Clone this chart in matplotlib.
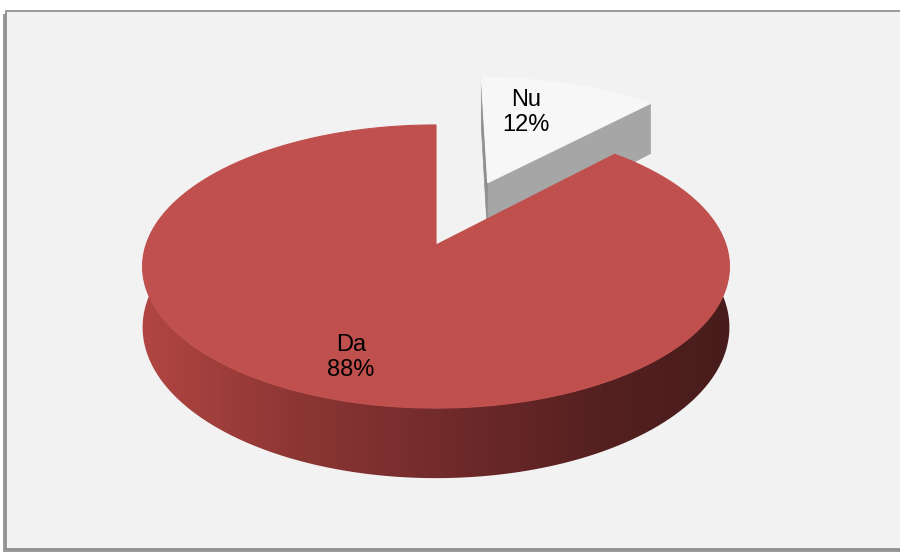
import numpy as np
import matplotlib
matplotlib.use("Agg")
import matplotlib.pyplot as plt
from matplotlib.patches import Polygon, Rectangle
from matplotlib.colors import LinearSegmentedColormap

# data
labels = ["Nu", "Da"]
values = [12, 88]
explode = [0.52, 0.0]
top_colors = ["#f7f7f7", "#c0504d"]
cut_colors = ["#a6a6a6", "#8e3a38"]

# label placement (radius from slice apex, angle nudge in degrees)
label_r = [0.66, 0.77]
label_turn = [6.6, 1.8]

# 3d pie projection (pixel space)
CX, CY = 436, 245      # centre of pie on screen
A, B = 290, 138.3      # horizontal / depth radius
K = 0.152              # perspective
H = 59.4               # thickness


def proj(u, v, z=0.0):
    den = 1 + K * v
    return CX + A * u / den, CY - B * v / den + z * H / den


def arc(t1, t2, ou, ov, z, n=200):
    t = np.radians(np.linspace(t1, t2, n))
    return [proj(ou + np.cos(a), ov + np.sin(a), z) for a in t]


fig = plt.figure(figsize=(9, 5.52), dpi=100)
ax = fig.add_axes([0, 0, 1, 1])
ax.set_xlim(0, 900)
ax.set_ylim(552, 0)
ax.axis("off")

# chart frame with a small shadow
ax.add_patch(Rectangle((3, 14), 900, 538, facecolor="#9a9a9a", edgecolor="none", zorder=0))
ax.add_patch(Rectangle((6, 11), 900, 538, facecolor="#f2f2f2", edgecolor="#8a8a8a", lw=1.2, zorder=1))

total = sum(values)
start = 90.0
slices = []
for i, v in enumerate(values):
    sweep = 360.0 * v / total
    t1, t2 = start, start - sweep
    mid = np.radians((t1 + t2) / 2)
    ou, ov = explode[i] * np.cos(mid), explode[i] * np.sin(mid)
    slices.append((t1, t2, ou, ov, mid))
    start = t2

wall_cmap = LinearSegmentedColormap.from_list(
    "wall", [(0.0, "#b24642"), (0.27, "#8c3634"), (0.53, "#702a2a"),
             (0.78, "#552020"), (1.0, "#481c1c")])

z = 2
for i in range(len(values)):
    t1, t2, ou, ov, mid = slices[i]
    apex_t = proj(ou, ov, 0)
    apex_b = proj(ou, ov, 1)

    if i == 1:
        # outer wall with horizontal shading
        wall = arc(t1, t2, ou, ov, 0) + arc(t2, t1, ou, ov, 1)
        wp = Polygon(wall, closed=True, facecolor="none", edgecolor="none", zorder=z)
        ax.add_patch(wp)
        grad = np.linspace(0, 1, 256).reshape(1, -1)
        im = ax.imshow(grad, cmap=wall_cmap, extent=[138, 732, 200, 500],
                       aspect="auto", zorder=z, origin="upper")
        im.set_clip_path(wp)
    else:
        # radial cut faces visible on the exploded slice
        for t in (t2, t1):
            a = np.radians(t)
            rim_t = proj(ou + np.cos(a), ov + np.sin(a), 0)
            rim_b = proj(ou + np.cos(a), ov + np.sin(a), 1)
            col = cut_colors[i] if t == t2 else "#8f8f8f"
            ax.add_patch(Polygon([apex_t, rim_t, rim_b, apex_b], closed=True,
                                 facecolor=col, edgecolor=col, lw=0.5, zorder=z))

    top = [apex_t] + arc(t1, t2, ou, ov, 0)
    ax.add_patch(Polygon(top, closed=True, facecolor=top_colors[i],
                         edgecolor=top_colors[i], lw=0.8, zorder=z + 1))

    # data label
    la = mid + np.radians(label_turn[i])
    lx, ly = proj(ou + label_r[i] * np.cos(la), ov + label_r[i] * np.sin(la), 0)
    ax.text(lx, ly, f"{labels[i]}\n{values[i]}%", ha="center", va="center",
            fontsize=17, family="Liberation Sans", color="black",
            linespacing=1.22, zorder=10)
    z += 3

fig.savefig("out.png", dpi=100)
